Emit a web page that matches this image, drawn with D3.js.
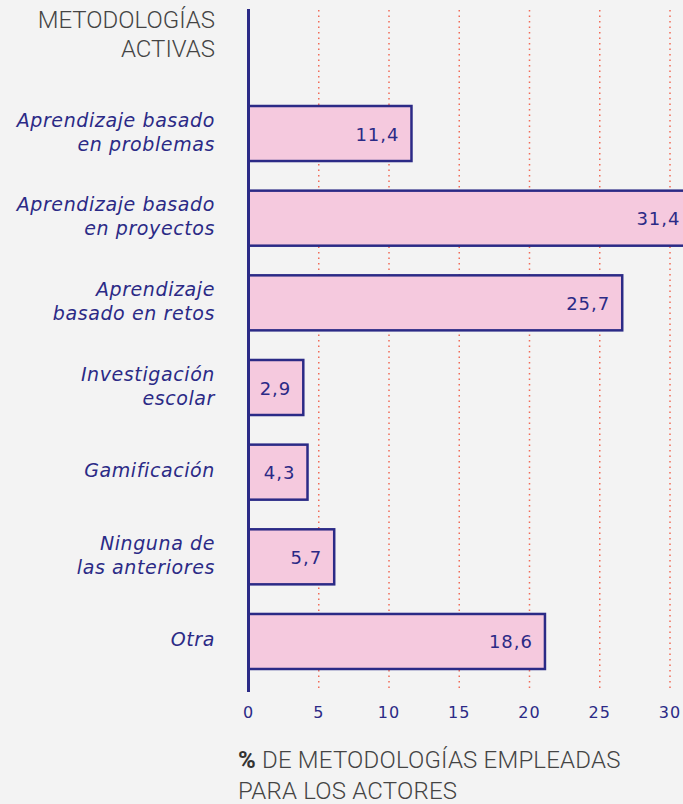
<!DOCTYPE html>
<html>
<head>
<meta charset="utf-8">
<script src="https://cdn.jsdelivr.net/npm/d3@7"></script>
<style>
  html, body { margin: 0; padding: 0; background: #f3f3f3; }
  svg { display: block; }
</style>
</head>
<body>
<div id="chart"></div>
<script>
// categories (line breaks as in the picture)
const categories = [
    ["Aprendizaje basado", "en problemas"],
    ["Aprendizaje basado", "en proyectos"],
    ["Aprendizaje", "basado en retos"],
    ["Investigación", "escolar"],
    ["Gamificación"],
    ["Ninguna de", "las anteriores"],
    ["Otra"]
];
// printed percentages
const values = [11.4, 31.4, 25.7, 2.9, 4.3, 5.7, 18.6];
// bar lengths as drawn in the picture (they don't all match the printed numbers)
const barLengths = [11.6, 31.6, 26.6, 3.9, 4.2, 6.1, 21.1];
const ticks = [0, 5, 10, 15, 20, 25, 30];
const titleLines = ["METODOLOGÍAS", "ACTIVAS"];

const width = 683, height = 804;
const blue = "#2b2a86", pink = "#f5c9de", grid = "#f26b57", gray = "#444";

const svg = d3.select("#chart").append("svg")
    .attr("width", width)
    .attr("height", height);

svg.append("rect").attr("width", width).attr("height", height).attr("fill", "#f3f3f3");

const x = d3.scaleLinear().domain([0, 30]).range([248.5, 670]);
const y = d3.scaleBand()
    .domain(d3.range(categories.length))
    .range([106, 669])
    .paddingInner(0.35)
    .paddingOuter(0);

const yTop = 10, yBottom = 692;

// dotted gridlines
svg.append("g")
    .selectAll("line")
    .data(ticks.filter(t => t > 0))
    .enter().append("line")
    .attr("x1", d => x(d)).attr("x2", d => x(d))
    .attr("y1", yTop).attr("y2", yBottom)
    .attr("stroke", grid)
    .attr("stroke-width", 1.5)
    .attr("stroke-dasharray", "1.5,4");

// bars
svg.append("g")
    .selectAll("rect")
    .data(barLengths)
    .enter().append("rect")
    .attr("x", x(0))
    .attr("y", (d, i) => y(i))
    .attr("width", d => x(d) - x(0))
    .attr("height", y.bandwidth())
    .attr("fill", pink)
    .attr("stroke", blue)
    .attr("stroke-width", 2.5);

// value labels
svg.append("g")
    .selectAll("text")
    .data(values)
    .enter().append("text")
    .attr("x", (d, i) => x(barLengths[i]) - 12)
    .attr("y", (d, i) => y(i) + y.bandwidth() / 2 + 7)
    .attr("text-anchor", "end")
    .style("font-family", "'DejaVu Sans', sans-serif")
    .style("font-size", "18px")
    .style("letter-spacing", "1px")
    .style("fill", blue)
    .text(d => d.toFixed(1).replace(".", ","));

// axis line
svg.append("line")
    .attr("x1", x(0)).attr("x2", x(0))
    .attr("y1", yTop - 1).attr("y2", yBottom)
    .attr("stroke", blue)
    .attr("stroke-width", 3);

// tick labels
svg.append("g")
    .selectAll("text")
    .data(ticks)
    .enter().append("text")
    .attr("x", d => x(d))
    .attr("y", 718)
    .attr("text-anchor", "middle")
    .style("font-family", "'DejaVu Sans', sans-serif")
    .style("font-size", "16px")
    .style("letter-spacing", "1px")
    .style("fill", blue)
    .text(d => d);

// category labels
const cat = svg.append("g")
    .selectAll("text")
    .data(categories)
    .enter().append("text")
    .attr("text-anchor", "end")
    .style("font-family", "'DejaVu Sans', sans-serif")
    .style("font-style", "italic")
    .style("font-size", "19px")
    .style("letter-spacing", "0.6px")
    .style("fill", blue)
    .attr("transform", (d, i) => "translate(215," + (y(i) + y.bandwidth() / 2 + 5 - (d.length - 1) * 12) + ")");

cat.selectAll("tspan")
    .data(d => d)
    .enter().append("tspan")
    .attr("x", 0)
    .attr("dy", (d, i) => i === 0 ? 0 : 24)
    .text(d => d);

// title
svg.append("g")
    .selectAll("text")
    .data(titleLines)
    .enter().append("text")
    .attr("x", 215)
    .attr("y", (d, i) => 28 + i * 29)
    .attr("text-anchor", "end")
    .style("font-family", "Roboto, sans-serif")
    .style("font-weight", 300)
    .style("font-size", "24px")
    .style("fill", gray)
    .text(d => d);

// axis title
const xt = svg.append("text")
    .attr("x", 238)
    .attr("y", 768)
    .style("font-family", "Roboto, sans-serif")
    .style("font-weight", 300)
    .style("font-size", "24px")
    .style("letter-spacing", "0.2px")
    .style("fill", gray);
xt.append("tspan").style("font-weight", 700).style("fill", "#333").text("%");
xt.append("tspan").text(" DE METODOLOGÍAS EMPLEADAS");
svg.append("text")
    .attr("x", 238)
    .attr("y", 799)
    .style("font-family", "Roboto, sans-serif")
    .style("font-weight", 300)
    .style("font-size", "24px")
    .style("letter-spacing", "0.2px")
    .style("fill", gray)
    .text("PARA LOS ACTORES");
</script>
</body>
</html>
